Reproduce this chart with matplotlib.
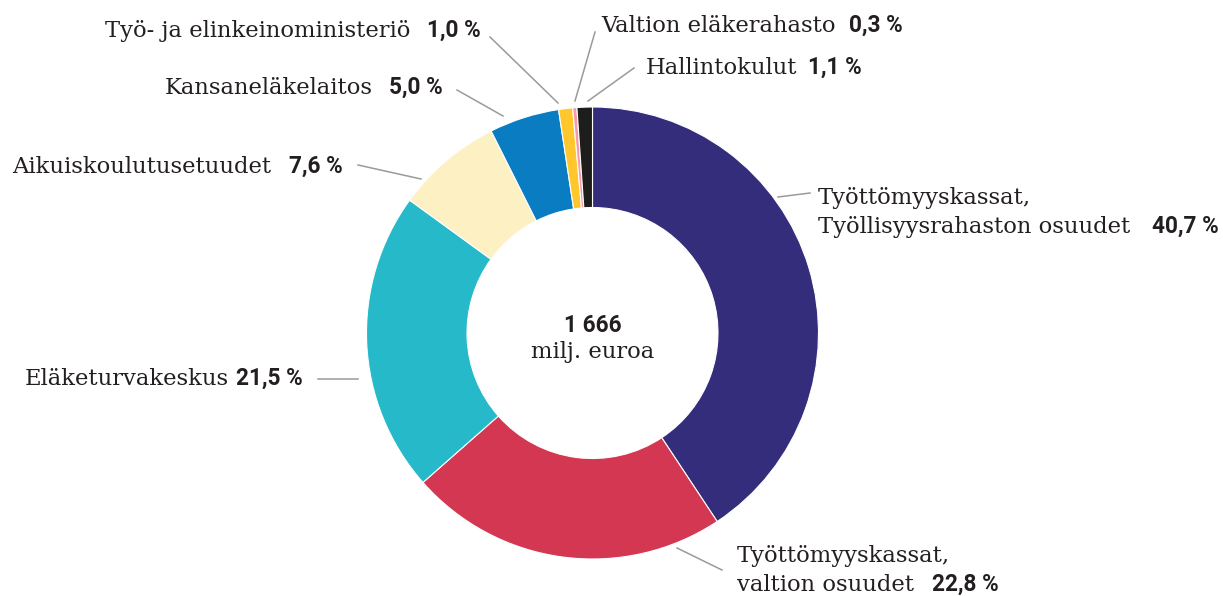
import matplotlib
matplotlib.use("Agg")
import matplotlib.pyplot as plt

# --- data ---
labels = ["Työttömyyskassat,\nTyöllisyysrahaston osuudet",
          "Työttömyyskassat,\nvaltion osuudet",
          "Eläketurvakeskus",
          "Aikuiskoulutusetuudet",
          "Kansaneläkelaitos",
          "Työ- ja elinkeinoministeriö",
          "Valtion eläkerahasto",
          "Hallintokulut"]
shares = [40.7, 22.8, 21.5, 7.6, 5.0, 1.0, 0.3, 1.1]
colors = ["#332d7b", "#d43751", "#25b9c9", "#fdf0c3",
          "#0a7cc1", "#ffc72c", "#f49bab", "#1d1d1b"]
total_text = "1 666"
unit_text = "milj. euroa"

# --- layout (pixels, y down) ---
W, H = 1223, 596
cx, cy = 592.5, 333
r_out, r_in = 226, 125.5
line_gap = 29

# label: (name left x, pct right x, baseline y of last line)
label_pos = [(818, 1219, 233),
             (737, 999, 591),
             (25, 303, 385),
             (12, 343, 173),
             (165, 443, 94),
             (105, 481, 37),
             (601, 903, 32),
             (646, 862, 74)]
# leader lines: (x0, y0, x1, y1)
leaders = [(778, 197, 810, 193),
           (677, 548, 722, 570),
           (318, 379, 358, 379),
           (358, 165, 421, 179),
           (457, 90, 503, 116),
           (490, 37, 558, 103),
           (595, 32, 575, 101),
           (634, 68, 588, 101)]

txt_col = "#231f20"
name_font = "DejaVu Serif"
num_font = "Roboto"
fs = 16.3

fig = plt.figure(figsize=(W / 100, H / 100), dpi=100)
ax = fig.add_axes([0, 0, 1, 1])

# y axis is inverted, so startangle=-90 is the top and ccw in data is clockwise on screen
ax.set_ylim(H, 0)
ax.pie(shares, colors=colors, startangle=-90, counterclock=True,
       center=(cx, cy), radius=r_out, frame=True,
       wedgeprops=dict(width=r_out - r_in, edgecolor="white", linewidth=0.8))
ax.set_xlim(0, W)
ax.set_ylim(H, 0)
ax.axis("off")

for lab, val, (xl, xr, yb), (x0, y0, x1, y1) in zip(labels, shares, label_pos, leaders):
    lines = lab.split("\n")
    # one text per line so the bold share sits next to the last line only
    for i, ln in enumerate(lines):
        y = yb - (len(lines) - 1 - i) * line_gap
        ax.text(xl, y, ln, fontsize=fs, family=name_font, color=txt_col,
                ha="left", va="baseline")
    pct = f"{val:.1f}".replace(".", ",") + " %"
    ax.text(xr, yb, pct, fontsize=fs, family=num_font, fontweight="bold",
            color=txt_col, ha="right", va="baseline")
    ax.plot([x0, x1], [y0, y1], color="#9a9a9a", linewidth=1.1)

ax.text(cx, 332, total_text, fontsize=fs, family=num_font, fontweight="bold",
        color=txt_col, ha="center", va="baseline")
ax.text(cx, 358, unit_text, fontsize=fs, family=name_font,
        color=txt_col, ha="center", va="baseline")

fig.savefig("out.png", dpi=100)
